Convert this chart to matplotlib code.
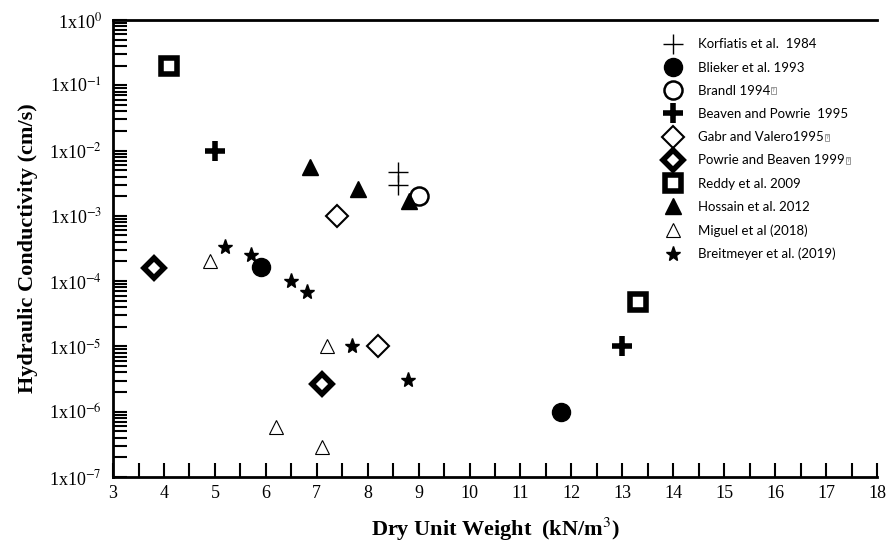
import matplotlib
matplotlib.use("Agg")
import matplotlib.pyplot as plt
from matplotlib.ticker import FixedLocator, LogLocator, MultipleLocator, NullFormatter

plt.rcParams['font.family'] = ['Liberation Serif', 'DejaVu Serif']
plt.rcParams['mathtext.fontset'] = 'stix'

# data (x = dry unit weight kN/m3, y = hydraulic conductivity cm/s)
korf_x = [8.6, 8.6]
korf_y = [4.7e-3, 3.0e-3]
blieker_x = [5.9, 11.8]
blieker_y = [1.65e-4, 1.0e-6]
brandl_x = [9.0]
brandl_y = [2.0e-3]
beaven_x = [5.0, 13.0]
beaven_y = [1.0e-2, 1.0e-5]
gabr_x = [7.4, 8.2]
gabr_y = [1.0e-3, 1.0e-5]
powrie_x = [3.8, 7.1]
powrie_y = [1.6e-4, 2.7e-6]
reddy_x = [4.1, 13.3]
reddy_y = [0.2, 4.8e-5]
hossain_x = [6.87, 7.8, 8.82]
hossain_y = [5.6e-3, 2.6e-3, 1.7e-3]
miguel_x = [4.9, 7.2, 6.2, 7.1]
miguel_y = [2.0e-4, 1.0e-5, 5.9e-7, 2.9e-7]
breit_x = [5.2, 5.7, 6.5, 6.8, 7.7, 8.8]
breit_y = [3.3e-4, 2.5e-4, 1.0e-4, 6.8e-5, 1.0e-5, 3.1e-6]

labels = ["Korfiatis et al.  1984", "Blieker et al. 1993", "Brandl 1994",
          "Beaven and Powrie  1995", "Gabr and Valero1995",
          "Powrie and Beaven 1999", "Reddy et al. 2009", "Hossain et al. 2012",
          "Miguel et al (2018)", "Breitmeyer et al. (2019)"]
# labels followed by the missing-glyph box in the original
boxed = [2, 4, 5]

fig = plt.figure(figsize=(8.88, 5.52), dpi=100)
ax = fig.add_axes([0.1273, 0.1359, 0.8603, 0.8279])

k = dict(linestyle='none', color='black')
ax.plot(korf_x, korf_y, marker='+', ms=15, mew=1.0, label=labels[0], **k)
ax.plot(blieker_x, blieker_y, marker='o', ms=13, mfc='black', mec='black', label=labels[1], **k)
ax.plot(brandl_x, brandl_y, marker='o', ms=13, mfc='white', mec='black', mew=1.8, label=labels[2], **k)
ax.plot(beaven_x, beaven_y, marker='+', ms=14, mew=4, label=labels[3], **k)
ax.plot(gabr_x, gabr_y, marker='D', ms=11, mfc='white', mec='black', mew=1.5, label=labels[4], **k)
ax.plot(powrie_x, powrie_y, marker='D', ms=10, mfc='white', mec='black', mew=4, label=labels[5], **k)
ax.plot(reddy_x, reddy_y, marker='s', ms=12, mfc='white', mec='black', mew=4, label=labels[6], **k)
ax.plot(hossain_x, hossain_y, marker='^', ms=12, mfc='black', mec='black', label=labels[7], **k)
ax.plot(miguel_x, miguel_y, marker='^', ms=10, mfc='white', mec='black', mew=0.8, label=labels[8], **k)
ax.plot(breit_x, breit_y, marker='*', ms=11, mfc='black', mec='black', label=labels[9], **k)

ax.set_yscale('log')
ax.set_xlim(3, 18)
ax.set_ylim(1e-7, 1e0)

decades = list(range(-7, 1))
ax.yaxis.set_major_locator(FixedLocator([10.0 ** d for d in decades]))
ax.set_yticklabels(['1x10$^{%d}$' % d for d in decades])
ax.yaxis.set_minor_locator(LogLocator(base=10, subs=range(2, 10), numticks=20))
ax.yaxis.set_minor_formatter(NullFormatter())

ax.xaxis.set_major_locator(MultipleLocator(1))
ax.xaxis.set_minor_locator(MultipleLocator(0.5))

ax.tick_params(which='both', direction='in', length=10, width=1.5, labelsize=13, colors='black')
ax.tick_params(axis='x', which='major', pad=6)
ax.tick_params(axis='y', which='major', pad=8)

for s in ['left', 'bottom', 'top']:
    ax.spines[s].set_linewidth(2)
ax.spines['right'].set_visible(False)

ax.set_xlabel("Dry Unit Weight  (kN/m$^{3}$)", fontsize=16, fontweight='bold', labelpad=10)
ax.set_ylabel("Hydraulic Conductivity (cm/s)", fontsize=16, fontweight='bold', labelpad=8)

leg = ax.legend(loc='upper right', bbox_to_anchor=(0.974, 0.98), frameon=False,
                prop={'family': ['Lato', 'DejaVu Sans'], 'size': 9.5},
                labelspacing=0.85, handletextpad=0.9, borderaxespad=0.3, numpoints=1)

# small grey "?" box after some labels (missing glyph in the source figure)
fig.canvas.draw()
r = fig.canvas.get_renderer()
for i in boxed:
    bb = leg.get_texts()[i].get_window_extent(r)
    fig.text((bb.x1 + 2) / fig.bbox.width, (bb.y0 + bb.y1) / 2 / fig.bbox.height, "?",
             fontsize=4, color='#777777', ha='left', va='center', family='DejaVu Sans',
             bbox=dict(boxstyle='square,pad=0.15', fc='white', ec='#888888', lw=0.6))

fig.savefig("out.png", dpi=100)
